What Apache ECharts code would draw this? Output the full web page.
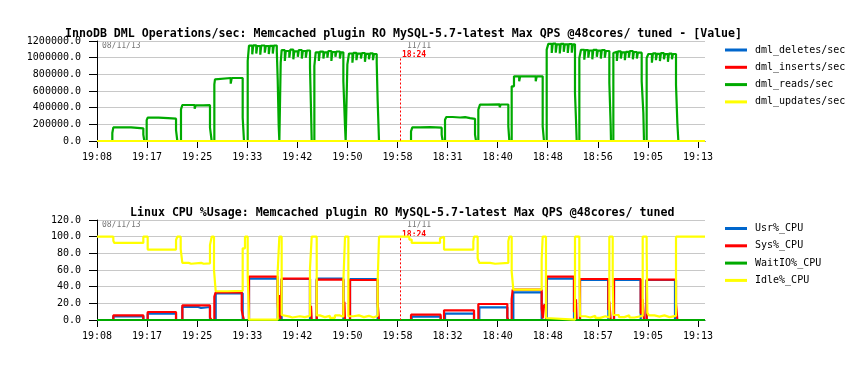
<!DOCTYPE html>
<html>
<head>
<meta charset="utf-8">
<script src="https://cdn.jsdelivr.net/npm/echarts@6/dist/echarts.min.js"></script>
<style>
html,body{margin:0;padding:0;background:#fff;}
#chart{width:867px;height:365px;}
</style>
</head>
<body>
<div id="chart"></div>
<script>
// x positions: 10 units per labelled tick
var topTickLabels = ['19:08','19:17','19:25','19:33','19:42','19:50','19:58','18:31','18:40','18:48','18:56','19:05','19:13'];
var cpuTickLabels = ['19:08','19:17','19:25','19:33','19:42','19:50','19:58','18:32','18:40','18:48','18:57','19:05','19:13'];
var tickPositions = [0,10,20,30,40,50,60,70,80,90,100,110,120];
var xEnd = 121.4;
var runBoundary = 60.5;

var dmlDeletes = [[0,0],[121.4,0]];
var dmlInserts = [[0,0],[121.4,0]];
var dmlUpdates = [[0,0],[121.4,0]];
var dmlReads = [
[0,0],[3.06,96000],[3.26,164000],[6.8,152000],[9.25,76000],[9.45,0],
[9.92,250000],[10.12,280000],[12.3,262000],[12.5,274000],[14.2,268000],[15.78,130000],[16.04,0],
[16.77,380000],[17.04,432000],[19.5,388000],[19.7,428000],[21.2,430000],[22.56,160000],[22.9,0],
[23.43,680000],[23.56,740000],[23.8,756000],[26.7,688000],[26.9,756000],[29.09,280000],[29.35,0],
[30.09,960000],[30.35,1144000],[31.0,1040000],[31.2,1148000],[31.8,1050000],[32.0,1140000],[32.6,1036000],[32.8,1146000],[33.5,1060000],[33.7,1140000],[34.3,1044000],[34.5,1142000],[35.1,1050000],[35.3,1146000],[35.9,1080000],[36.08,740000],[36.28,180000],[36.41,0],
[36.68,940000],[36.87,1090000],[37.5,960000],[37.7,1080000],[38.4,1000000],[38.6,1096000],[39.2,980000],[39.4,1076000],[40.1,1010000],[40.3,1092000],[40.9,990000],[41.1,1080000],[41.7,1000000],[41.9,1086000],[42.53,880000],[42.73,380000],[42.87,0],
[43.4,900000],[43.67,1064000],[44.3,960000],[44.5,1072000],[45.2,990000],[45.4,1064000],[46.0,1000000],[46.2,1080000],[46.8,960000],[47.0,1068000],[47.6,1010000],[47.8,1074000],[48.5,990000],[48.7,1064000],[49.19,720000],[49.52,180000],[49.65,0],
[49.99,920000],[50.32,1050000],[51.0,940000],[51.2,1058000],[51.8,970000],[52.0,1048000],[52.7,990000],[52.9,1056000],[53.5,950000],[53.7,1046000],[54.3,980000],[54.5,1052000],[55.1,970000],[55.3,1044000],[55.85,940000],[56.04,480000],[56.31,0],
[62.7,116000],[62.96,164000],[64.5,156000],[64.7,166000],[66.5,160000],[68.82,76000],[69.02,0],
[69.49,256000],[69.75,288000],[71.0,282000],[72.5,286000],[73.5,274000],[74.5,266000],[75.48,76000],[75.68,0],
[76.14,376000],[76.47,436000],[78.0,440000],[80.4,405000],[80.6,438000],[82.13,176000],[82.33,0],
[82.8,656000],[83.26,776000],[84.3,716000],[84.5,776000],[87.6,716000],[87.8,776000],[88.99,176000],[89.25,0],
[89.79,1096000],[90.12,1165000],[90.8,1056000],[91.0,1168000],[91.6,1060000],[91.8,1160000],[92.4,1050000],[92.6,1166000],[93.2,1070000],[93.4,1160000],[94.0,1056000],[94.2,1164000],[94.8,1060000],[95.0,1160000],[95.44,576000],[95.64,256000],[95.78,0],
[96.31,996000],[96.64,1095000],[97.3,976000],[97.5,1090000],[98.1,1000000],[98.3,1086000],[98.9,980000],[99.1,1094000],[99.8,1010000],[100.0,1084000],[100.6,990000],[100.8,1092000],[101.4,1000000],[101.6,1080000],[102.3,696000],[102.57,176000],[102.63,0],
[103.1,1056000],[103.4,1070000],[103.8,960000],[104.0,1076000],[104.6,990000],[104.8,1064000],[105.4,970000],[105.6,1070000],[106.2,1000000],[106.4,1080000],[107.0,980000],[107.2,1068000],[107.8,990000],[108.0,1060000],[108.76,716000],[109.09,336000],[109.22,0],
[109.75,996000],[110.09,1044000],[110.8,940000],[111.0,1052000],[111.6,970000],[111.8,1046000],[112.4,960000],[112.6,1054000],[113.2,980000],[113.4,1042000],[114.0,950000],[114.2,1048000],[114.8,980000],[115.0,1044000],[115.61,676000],[115.88,216000],[116.08,0],
[121.4,0]
];

var usrCpu = [
[0,0],[3.26,4.4],[9.25,0],[10.12,7.6],[15.78,0],[17.04,15.6],[20.24,14.4],[20.77,15.6],[22.56,0],[23.7,32],[29.09,0],[30.35,49.6],[36.08,0],[36.87,49.2],[42.53,0],[43.87,49.6],[49.19,0],[50.52,49.2],[56.04,0],
[62.83,4],[68.62,0],[69.49,7.6],[75.28,0],[76.34,15.2],[81.93,0],[83.13,33.2],[88.79,0],[89.79,49.6],[95.24,0],[96.44,48],[102.1,0],[103.23,48],[108.56,0],[109.75,48],[115.41,0],[121.4,0]
];
var sysCpu = [
[0,0],[3.26,5.6],[9.25,0],[10.12,9.6],[15.78,0],[17.04,17.6],[22.56,3],[22.9,0],[23.43,28],[23.7,33.2],[28.9,12],[29.09,6],[29.35,0],[30.35,52],[36.08,20],[36.28,4],[36.41,30],[36.6,0],[36.87,49.6],[42.53,6],[42.73,17],[42.87,0],[43.87,48.4],[49.19,6],[49.39,22],[49.52,0],[50.52,48],[56.04,20],[56.31,0],
[62.7,6.4],[68.62,0],[69.29,11.6],[75.28,0],[76.14,19.2],[81.93,3],[82.13,0],[82.8,25],[83.0,36.4],[88.79,14],[89.0,2],[89.25,18],[89.65,0],[89.79,52],[95.24,10],[95.64,25],[95.78,0],[96.44,49.2],[102.1,12],[102.3,22],[102.57,0],[103.23,49.2],[108.56,8],[108.96,25],[109.22,0],[109.75,48.4],[115.61,20],[115.88,0],[121.4,0]
];
var waitIoCpu = [[0,0],[121.4,0]];
var idleCpu = [
[0,100],[3.26,95],[3.46,92.5],[9.25,100],[10.12,84.5],[15.78,96],[16.04,100],[16.71,85],[17.04,68.5],[18.3,67.5],[18.8,68.5],[20.8,67.5],[21.3,68],[22.56,90],[22.9,100],[23.36,60],[23.7,34.5],[26.0,35],[29.09,86],[29.55,100],[30.09,54],[30.35,0.5],[36.08,58],[36.41,100],[36.87,6],[37.2,4],[38.5,3],[39.0,4.5],[40.5,3.5],[41.5,5],[42.53,62],[42.87,100],[43.87,5.5],[44.5,3.5],[45.5,5],[46.5,2.5],[47.5,5.5],[48.5,4],[49.19,46],[49.52,100],[50.19,4.5],[51.2,5.5],[52.3,3.5],[53.3,5],[54.3,3],[55.2,5],[56.04,46],[56.31,100],
[62.36,96.5],[62.83,92.5],[68.49,98],[68.62,100],[69.29,84.5],[75.14,94],[75.28,100],[76.01,74],[76.34,68.5],[78.5,67.5],[79.5,68.5],[82.13,94.5],[82.33,100],[82.8,58],[83.13,36.5],[88.79,72.5],[88.99,100],[89.65,2.4],[89.79,0.5],[95.44,100],[96.31,54],[96.44,4.5],[97.5,3],[98.5,5],[99.5,2.5],[100.5,4.5],[101.5,3],[102.3,100],[102.97,46],[103.1,6],[104.2,3.5],[105.3,5.5],[106.3,3],[107.3,5],[108.96,100],[109.75,86],[109.89,8.5],[110.2,5.5],[111.3,4],[112.3,5.5],[113.3,3.5],[114.3,5],[115.61,100],[121.4,100]
];

var MONO = 'DejaVu Sans Mono';
var chart = echarts.init(document.getElementById('chart'), null, {renderer: 'canvas'});

function xAxisFor(gi, labels) {
  return {
    type: 'value', gridIndex: gi, min: 0, max: xEnd, interval: 10,
    axisLine: {show: true, lineStyle: {color: '#000', width: 1}},
    axisTick: {show: true, length: 7, lineStyle: {color: '#000'}, customValues: tickPositions},
    axisLabel: {customValues: tickPositions, margin: 11, color: '#000', fontFamily: MONO, fontSize: 10,
      formatter: function (v) { var i = Math.round(v / 10); return labels[i] || ''; }},
    splitLine: {show: false}
  };
}
function yAxisFor(gi, max, interval) {
  return {
    type: 'value', gridIndex: gi, min: 0, max: max, interval: interval,
    axisLine: {show: true, lineStyle: {color: '#000', width: 1}},
    axisTick: {show: true, length: 8, lineStyle: {color: '#000'}},
    axisLabel: {margin: 16, color: '#000', fontFamily: MONO, fontSize: 10,
      formatter: function (v) { return v.toFixed(1); }},
    splitLine: {show: true, lineStyle: {color: '#c8c8c8', width: 1}}
  };
}
function lineSeries(name, data, color, xi, extra) {
  var s = {
    name: name, type: 'line', xAxisIndex: xi, yAxisIndex: xi, data: data,
    step: 'end', showSymbol: false, symbol: 'none',
    lineStyle: {color: color, width: 2.2}, itemStyle: {color: color},
    animation: false
  };
  if (extra) { for (var k in extra) s[k] = extra[k]; }
  return s;
}
function boundaryLine(topValue) {
  return {
    silent: true, symbol: 'none', animation: false,
    label: {show: false},
    lineStyle: {color: '#ff0000', width: 1, type: [2, 2]},
    data: [[{coord: [runBoundary, topValue]}, {coord: [runBoundary, 0]}]]
  };
}

var option = {
  backgroundColor: '#fff',
  animation: false,
  title: [
    {text: 'InnoDB DML Operations/sec: Memcached plugin RO MySQL-5.7-latest Max QPS @48cores/ tuned - [Value]',
     left: 60, top: 23, textStyle: {fontFamily: MONO, fontSize: 11.6, fontWeight: 'bold', color: '#000'}},
    {text: 'Linux CPU %Usage: Memcached plugin RO MySQL-5.7-latest Max QPS @48cores/ tuned',
     left: 125, top: 202, textStyle: {fontFamily: MONO, fontSize: 11.6, fontWeight: 'bold', color: '#000'}}
  ],
  legend: [
    {orient: 'vertical', left: 725, top: 44, padding: 0, itemWidth: 22, itemHeight: 3, itemGap: 5.3, icon: 'rect',
     data: ['dml_deletes/sec','dml_inserts/sec','dml_reads/sec','dml_updates/sec'],
     textStyle: {fontFamily: MONO, fontSize: 10, color: '#000', lineHeight: 12, padding: [0,0,0,3]}},
    {orient: 'vertical', left: 725, top: 222.5, padding: 0, itemWidth: 22, itemHeight: 3, itemGap: 5.3, icon: 'rect',
     data: ['Usr%_CPU','Sys%_CPU','WaitIO%_CPU','Idle%_CPU'],
     textStyle: {fontFamily: MONO, fontSize: 10, color: '#000', lineHeight: 12, padding: [0,0,0,3]}}
  ],
  grid: [
    {left: 97, top: 41, width: 608, height: 100},
    {left: 97, top: 220, width: 608, height: 100}
  ],
  xAxis: [xAxisFor(0, topTickLabels), xAxisFor(1, cpuTickLabels)],
  yAxis: [yAxisFor(0, 1200000, 200000), yAxisFor(1, 120, 20)],
  graphic: [
    {type: 'text', left: 102, top: 42, style: {text: '08/11/13', fill: '#777', font: '8px "DejaVu Sans Mono"'}},
    {type: 'text', left: 407, top: 42, style: {text: '11/11', fill: '#777', font: '8px "DejaVu Sans Mono"'}},
    {type: 'text', left: 402, top: 51, style: {text: '18:24', fill: '#ff0000', font: 'bold 8px "DejaVu Sans Mono"'}},
    {type: 'text', left: 102, top: 221, style: {text: '08/11/13', fill: '#777', font: '8px "DejaVu Sans Mono"'}},
    {type: 'text', left: 407, top: 221, style: {text: '11/11', fill: '#777', font: '8px "DejaVu Sans Mono"'}},
    {type: 'text', left: 402, top: 231, style: {text: '18:24', fill: '#ff0000', font: 'bold 8px "DejaVu Sans Mono"'}}
  ],
  series: [
    lineSeries('dml_deletes/sec', dmlDeletes, '#0066cc', 0),
    lineSeries('dml_inserts/sec', dmlInserts, '#ff0000', 0),
    lineSeries('dml_reads/sec', dmlReads, '#00aa00', 0, {markLine: boundaryLine(990000)}),
    lineSeries('dml_updates/sec', dmlUpdates, '#ffff00', 0),
    lineSeries('Usr%_CPU', usrCpu, '#0066cc', 1),
    lineSeries('Sys%_CPU', sysCpu, '#ff0000', 1),
    lineSeries('WaitIO%_CPU', waitIoCpu, '#00aa00', 1, {markLine: boundaryLine(98)}),
    lineSeries('Idle%_CPU', idleCpu, '#ffff00', 1)
  ]
};
chart.setOption(option);
</script>
</body>
</html>
